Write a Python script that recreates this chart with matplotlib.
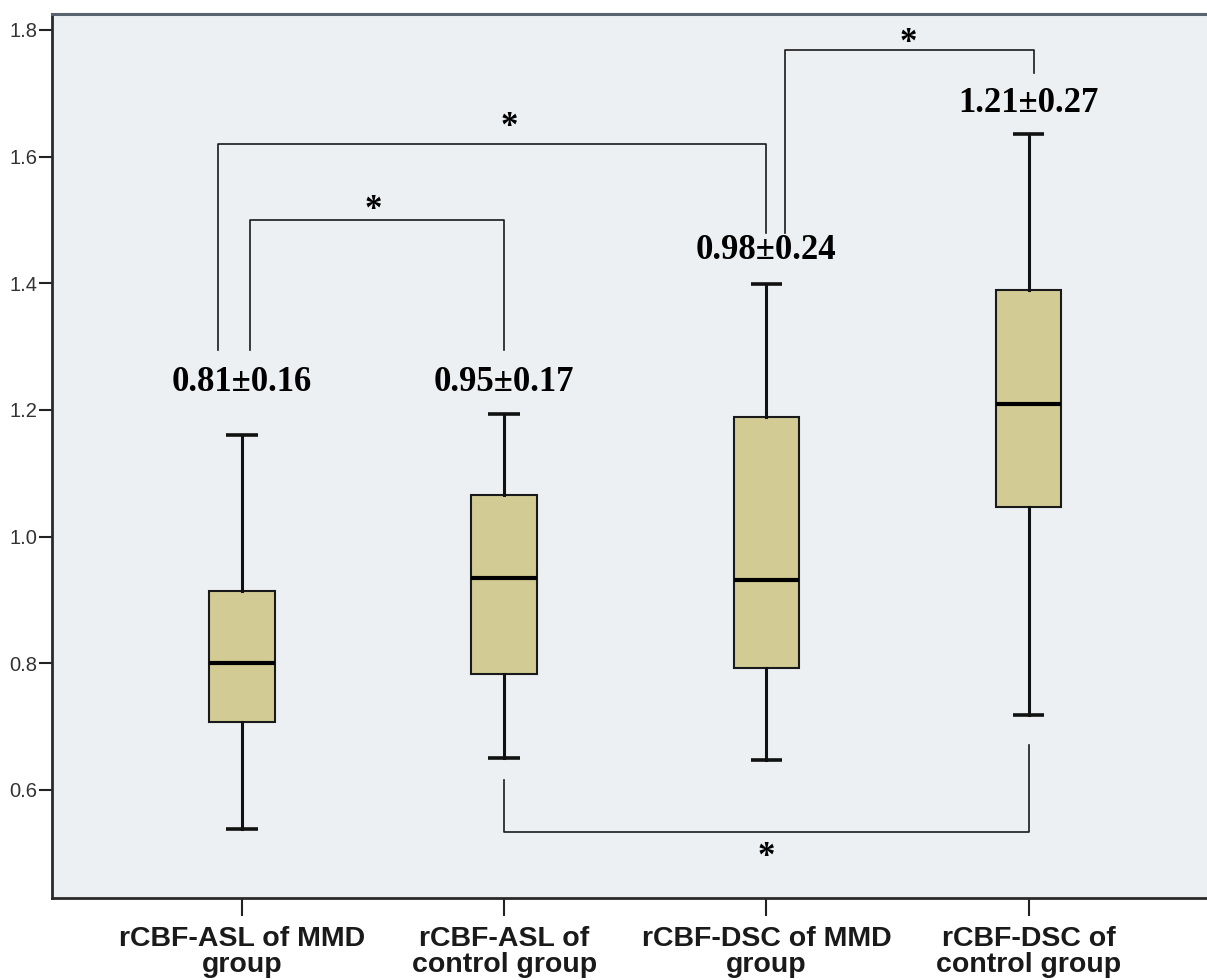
import matplotlib
matplotlib.use("Agg")
import matplotlib.pyplot as plt

# box statistics
groups = ["rCBF-ASL of MMD\ngroup", "rCBF-ASL of\ncontrol group",
          "rCBF-DSC of MMD\ngroup", "rCBF-DSC of\ncontrol group"]
whislo = [0.538, 0.651, 0.647, 0.719]
q1 = [0.707, 0.783, 0.792, 1.047]
med = [0.800, 0.934, 0.932, 1.209]
q3 = [0.914, 1.065, 1.189, 1.389]
whishi = [1.160, 1.194, 1.398, 1.636]
means = ["0.81\u00b10.16", "0.95\u00b10.17", "0.98\u00b10.24", "1.21\u00b10.27"]
mean_y = [1.243, 1.243, 1.452, 1.684]

# significance brackets: (x1, x2, y_top, leg1_end, leg2_end, star_x, star_y)
brackets = [
    (1.03, 2.0, 1.50, 1.294, 1.294, 1.50, 1.515),
    (0.91, 3.0, 1.62, 1.294, 1.479, 2.02, 1.646),
    (3.07, 4.02, 1.768, 1.479, 1.732, 3.54, 1.778),
    (2.0, 4.0, 0.534, 0.615, 0.671, 3.0, 0.494),
]

fig = plt.figure(figsize=(12.07, 9.8), dpi=100)
ax = fig.add_axes([0.0431, 0.0837, 0.9569, 0.902])
ax.set_facecolor("#edf0f2")

stats = []
for i in range(len(groups)):
    stats.append(dict(whislo=whislo[i], q1=q1[i], med=med[i], q3=q3[i],
                      whishi=whishi[i], fliers=[]))
pos = list(range(1, len(groups) + 1))
ax.bxp(stats, positions=pos, widths=0.25, patch_artist=True,
       showfliers=False,
       boxprops=dict(facecolor="#d2cc94", edgecolor="#1a1a1a", linewidth=1.5),
       medianprops=dict(color="black", linewidth=3.0, solid_capstyle="butt"),
       whiskerprops=dict(color="#111111", linewidth=2.2),
       capprops=dict(color="#111111", linewidth=2.6, solid_capstyle="butt"),
       capwidths=0.12)

ax.set_xlim(0.276, 4.68)
ax.set_ylim(0.4295, 1.825)
ax.set_yticks([0.6, 0.8, 1.0, 1.2, 1.4, 1.6, 1.8])
ax.set_yticklabels(["0.6", "0.8", "1.0", "1.2", "1.4", "1.6", "1.8"],
                   fontfamily="Liberation Sans", fontsize=14.5, color="#333333")
ax.set_xticks(pos)
ax.set_xticklabels(groups, fontfamily="Liberation Sans", fontweight="bold",
                   fontsize=20.5, color="#1a1a1a", linespacing=1.0)
ax.tick_params(axis="y", direction="out", length=9.5, width=1.5,
               color="#222222", pad=1)
ax.tick_params(axis="x", direction="out", length=13, width=1.5,
               color="#222222", pad=7)

for side in ["left", "bottom"]:
    ax.spines[side].set_color("#2a2a2a")
    ax.spines[side].set_linewidth(2.0)
ax.spines["top"].set_color("#5a6470")
ax.spines["top"].set_linewidth(2.2)
ax.spines["right"].set_visible(False)

for i in range(len(groups)):
    ax.text(pos[i], mean_y[i], means[i], ha="center", va="center",
            fontfamily="Liberation Serif", fontweight="bold", fontsize=25,
            color="black")

for x1, x2, yt, b1, b2, sx, sy in brackets:
    ax.plot([x1, x1, x2, x2], [b1, yt, yt, b2], color="#1a1a1a", linewidth=1.2)
    ax.text(sx, sy, "*", ha="center", va="center",
            fontfamily="Liberation Serif", fontweight="bold", fontsize=25,
            color="black")

fig.savefig("out.png", dpi=100, facecolor="white")
